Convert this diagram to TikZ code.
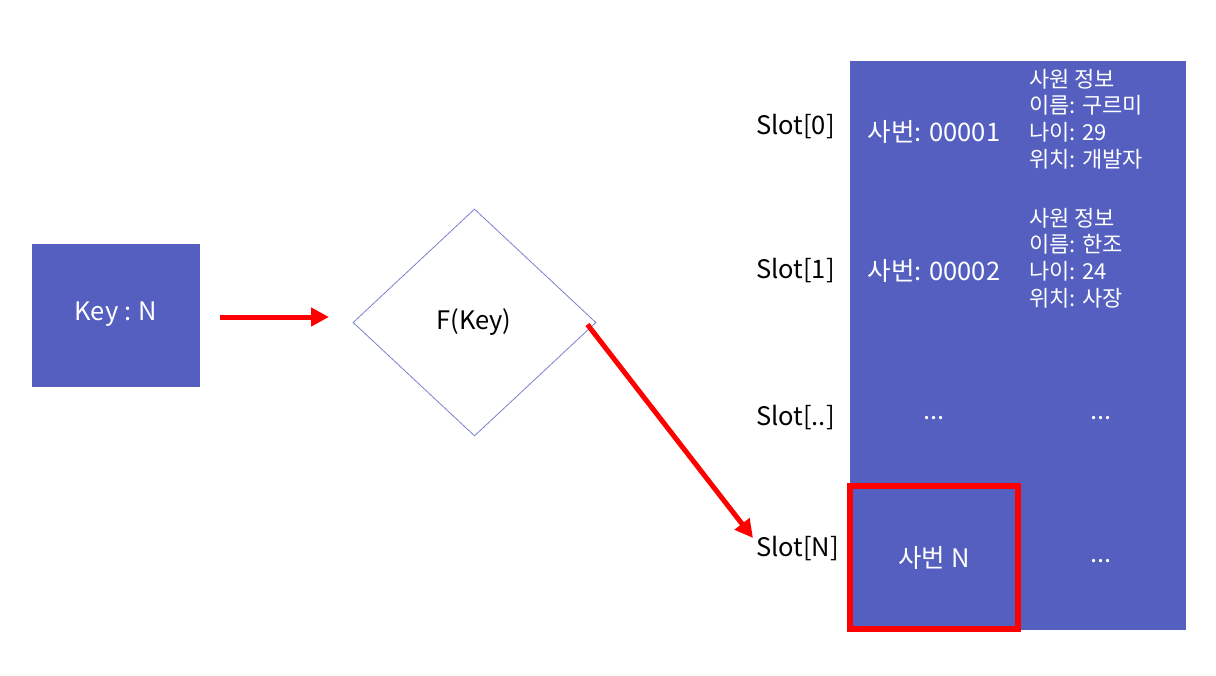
\documentclass[tikz,border=0pt]{standalone}
\usepackage{fontspec}
\setmainfont{Noto Sans CJK KR}
\usetikzlibrary{arrows.meta,shapes.geometric,calc}
\definecolor{boxblue}{RGB}{84,95,192}
\definecolor{dline}{RGB}{120,128,208}
\definecolor{redline}{RGB}{255,0,0}
\begin{document}
\begin{tikzpicture}[x=1pt,y=-1pt,
  txt/.style={font=\fontsize{25.5}{30}\selectfont, inner sep=0pt},
  wtxt/.style={txt, text=white},
  slotlbl/.style={txt, anchor=west},
  redarrow/.style={draw=redline, line width=5pt, -{Triangle[length=18pt,width=18pt]}},
  info/.style={text=white, inner sep=0pt, anchor=north west, align=left, font=\fontsize{22}{26.6}\selectfont}]
\useasboundingbox (0,0) rectangle (1216,675);
% key box
\node[fill=boxblue, minimum width=168pt, minimum height=143pt, inner sep=0, outer sep=0, anchor=north west] (key) at (32,244) {};
\node[wtxt] (keytxt) at (116,314) {Key : N};
% diamond
\node[diamond, draw=dline, line width=0.8pt, minimum width=243pt, minimum height=227pt, inner sep=0pt, aspect=1.07] (fk) at (474.5,322.5) {};
\node[txt] (fktxt) at (474,322) {F(Key)};
% table
\node[fill=boxblue, minimum width=336pt, minimum height=569pt, inner sep=0, outer sep=0, anchor=north west] (table) at (850,61) {};
\node[draw=redline, line width=6pt, minimum width=168pt, minimum height=143pt, inner sep=0, outer sep=0, anchor=north west] (sel) at (850,486) {};
% slot labels
\node[slotlbl] (s0) at (756,127) {Slot[0]};
\node[slotlbl] (s1) at (756,271) {Slot[1]};
\node[slotlbl] (s2) at (756,418) {Slot[..]};
\node[slotlbl] (sN) at (756,549) {Slot[N]};
% cell texts
\node[wtxt] (k0) at (934,132) {사번: 00001};
\node[wtxt] (k1) at (934,271) {사번: 00002};
\node[wtxt] (k2) at (934,418) {...};
\node[wtxt] (kN) at (934,558) {사번 N};
\node[info] (v0) at (1029,69) {사원 정보\\이름: 구르미\\나이: 29\\위치: 개발자};
\node[info] (v1) at (1029,208) {사원 정보\\이름: 한조\\나이: 24\\위치: 사장};
\node[wtxt] (v2) at (1101,418) {...};
\node[wtxt] (vN) at (1101,561) {...};
% arrows
\coordinate (a1s) at (220,317);
\coordinate (a1e) at (329,317);
\draw[redarrow] (a1s) -- (a1e);
\coordinate (a2s) at ($(fk.east)+(-9,2)$);
\coordinate (a2e) at ($(sN.west)+(-3,-11)$);
\draw[redarrow] (a2s) -- (a2e);
\end{tikzpicture}
\end{document}
